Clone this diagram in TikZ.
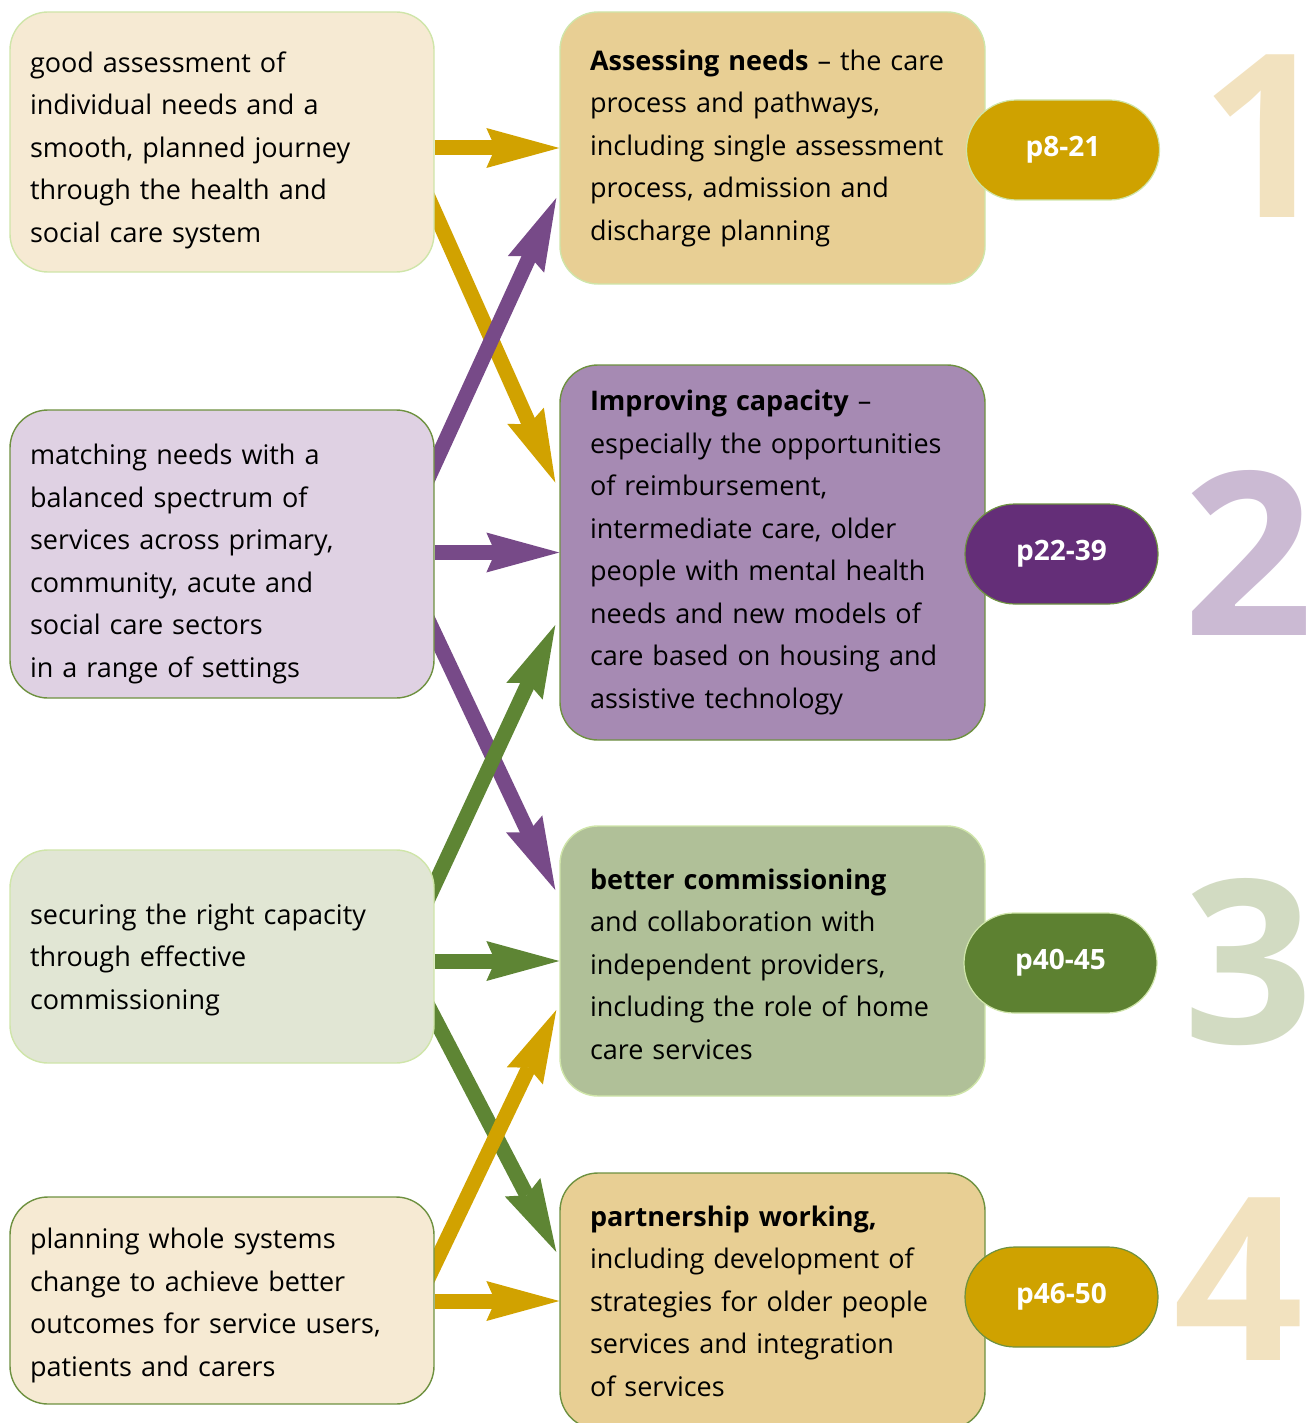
\documentclass[tikz,border=0pt]{standalone}
\usepackage{fontspec}
\setmainfont{Open Sans}
\usetikzlibrary{arrows.meta,backgrounds,calc}

\definecolor{leftgold}{HTML}{F6EAD3}
\definecolor{leftpurple}{HTML}{DFD1E3}
\definecolor{leftgreen}{HTML}{E1E6D4}
\definecolor{rightgold}{HTML}{E8CF94}
\definecolor{rightpurple}{HTML}{A68AB3}
\definecolor{rightgreen}{HTML}{B0C098}
\definecolor{pillgold}{HTML}{CFA200}
\definecolor{pillpurple}{HTML}{642E78}
\definecolor{pillgreen}{HTML}{5D8131}
\definecolor{arrowgold}{HTML}{D1A200}
\definecolor{arrowpurple}{HTML}{774A88}
\definecolor{arrowgreen}{HTML}{5E8534}
\definecolor{numgold}{HTML}{F2E2BF}
\definecolor{numpurple}{HTML}{CBBAD3}
\definecolor{numgreen}{HTML}{D2DBC2}
\definecolor{edgelight}{HTML}{CFE5A9}
\definecolor{edgedark}{HTML}{6E9140}

\newcommand{\bodyfont}{\fontsize{27}{42.5}\selectfont}
\newcommand{\pillfont}{\fontsize{28}{34}\selectfont\bfseries}
\newcommand{\numfont}{\fontsize{228}{230}\selectfont\bfseries}
\newcommand{\dropby}[1]{\endgraf\vspace*{-#1}}

\begin{document}
\begin{tikzpicture}[x=1pt,y=-1pt,
box/.style={draw,rounded corners=38pt,line width=1.4pt,inner ysep=0pt,align=left,font=\bodyfont},
leftbox/.style={box,text width=384pt,inner xsep=20pt},
rightbox/.style={box,text width=365pt,inner xsep=30pt},
drop/.style={execute at end node={\dropby{#1}}},
pill/.style={draw,rounded corners=50pt,line width=1.2pt,minimum width=193pt,minimum height=100pt,font=\pillfont,text=white},
bignum/.style={font=\numfont,inner sep=0pt,anchor=base},
link/.style={line width=15pt,-{Stealth[length=73pt,width=40pt,inset=9pt,line width=0pt]}},
cross/.style={link,shorten <=-20pt}]

\useasboundingbox (0,0) rectangle (1307,1423);

% big numbers behind everything
\node[bignum,text=numgold] (one) at (1266,218) {1};
\node[bignum,text=numpurple] (two) at (1249,635) {2};
\node[bignum,text=numgreen] (three) at (1249,1043) {3};
\node[bignum,text=numgold] (four) at (1239,1360) {4};

% left column
\node[leftbox,drop=16pt,fill=leftgold,draw=edgelight,minimum height=260pt] (need) at (222,142)
  {good assessment of\\individual needs and a\\smooth, planned journey\\through the health and\\social care system};
\node[leftbox,drop=20pt,fill=leftpurple,draw=edgedark,minimum height=288pt] (match) at (222,554)
  {matching needs with a\\balanced spectrum of\\services across primary,\\community, acute and\\social care sectors\\in a range of settings};
\node[leftbox,drop=6pt,fill=leftgreen,draw=edgelight,minimum height=213pt] (secure) at (222,956.5)
  {securing the right capacity\\through effective\\commissioning};
\node[leftbox,drop=10pt,fill=leftgold,draw=edgedark,minimum height=207pt] (plan) at (222,1300.5)
  {planning whole systems\\change to achieve better\\outcomes for service users,\\patients and carers};

% right column
\node[rightbox,fill=rightgold,draw=edgelight,minimum height=272pt] (assess) at (772.5,148)
  {\textbf{Assessing needs} -- the care\\process and pathways,\\including single assessment\\process, admission and\\discharge planning};
\node[rightbox,fill=rightpurple,draw=edgedark,minimum height=375pt] (capacity) at (772.5,552.5)
  {\textbf{Improving capacity} --\\especially the opportunities\\of reimbursement,\\intermediate care, older\\people with mental health\\needs and new models of\\care based on housing and\\assistive technology};
\node[rightbox,drop=6pt,fill=rightgreen,draw=edgelight,minimum height=270pt] (commission) at (772.5,961)
  {\textbf{better commissioning}\\and collaboration with\\independent providers,\\including the role of home\\care services};
\node[rightbox,fill=rightgold,draw=edgedark,minimum height=256pt] (partner) at (772.5,1301)
  {\textbf{partnership working,}\\including development of\\strategies for older people\\services and integration\\of services};

% page pills
\node[pill,fill=pillgold,draw=edgelight] (pages1) at (1063,150) {p8-21};
\node[pill,fill=pillpurple,draw=edgedark] (pages2) at (1061.5,554) {p22-39};
\node[pill,fill=pillgreen,draw=edgelight] (pages3) at (1060.5,963) {p40-45};
\node[pill,fill=pillgold,draw=edgedark] (pages4) at (1061.5,1297) {p46-50};

% connectors
\begin{scope}[on background layer]
\draw[link,arrowgold] (need.east |- assess.west) -- (assess.west);
\draw[link,arrowpurple] (match.east |- capacity.west) -- (capacity.west);
\draw[link,arrowgreen] (secure.east |- commission.west) -- (commission.west);
\draw[link,arrowgold] (plan.east |- partner.west) -- (partner.west);

\draw[cross,arrowgold] ($(need.east)+(0,70)$) -- ($(capacity.west)+(-4,-70)$);
\draw[cross,arrowpurple] ($(match.east)+(0,-90)$) -- ($(assess.west)+(-3,50)$);
\draw[cross,arrowpurple] ($(match.east)+(0,80)$) -- ($(commission.west)+(-4,-71)$);
\draw[cross,arrowgreen] ($(secure.east)+(0,-72)$) -- ($(capacity.west)+(-4,72.5)$);
\draw[cross,arrowgreen] ($(secure.east)+(0,62)$) -- ($(partner.west)+(-3,-49)$);
\draw[cross,arrowgold] ($(plan.east)+(0,-36)$) -- ($(commission.west)+(-3,49)$);
\end{scope}
\end{tikzpicture}
\end{document}
